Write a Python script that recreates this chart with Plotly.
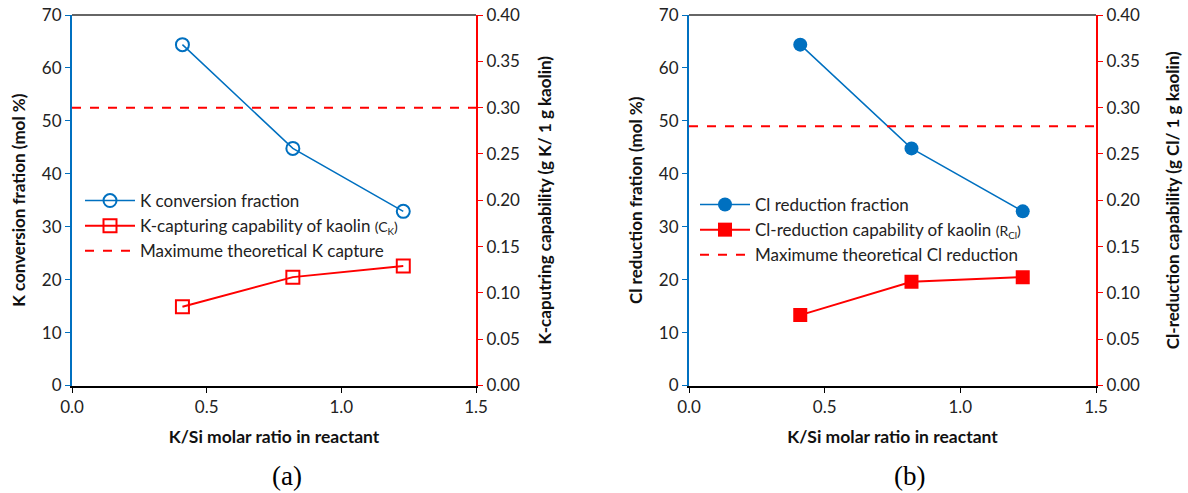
import plotly.graph_objects as go

# ---- data ----
ratio = [0.41, 0.82, 1.23]
k_conversion = [64.4, 44.8, 32.9]          # mol %
k_capability = [0.085, 0.117, 0.129]       # g K / 1 g kaolin
k_max_theoretical = 0.30
cl_reduction = [64.4, 44.8, 32.9]          # mol %
cl_capability = [0.076, 0.112, 0.117]      # g Cl / 1 g kaolin
cl_max_theoretical = 0.28
x_range = [0.0, 1.5]

BLUE = "#0070C0"
RED = "#FF0000"
FONT = "Lato"

W, H = 1188, 493

def px(p):
    return p / W

def py(p):
    return 1 - p / H

fig = go.Figure()

# ---- panel (a) ----
fig.add_trace(go.Scatter(
    x=ratio, y=k_conversion, mode="lines+markers", name="K conversion fraction",
    line=dict(color=BLUE, width=1.5),
    marker=dict(symbol="circle-open", size=13, color=BLUE, line=dict(width=2)),
    xaxis="x", yaxis="y", legend="legend", legendgroup="a1"))
fig.add_trace(go.Scatter(
    x=ratio, y=k_capability, mode="lines+markers",
    name="K-capturing capability of kaolin <span style='font-size:14px'>(C<sub>K</sub>)</span>",
    line=dict(color=RED, width=2),
    marker=dict(symbol="square-open", size=13, color=RED, line=dict(width=2)),
    xaxis="x", yaxis="y2", legend="legend", legendgroup="a2"))
fig.add_trace(go.Scatter(
    x=x_range, y=[k_max_theoretical] * 2, mode="lines",
    name="Maximume theoretical K capture",
    line=dict(color=RED, width=2, dash="dash"),
    xaxis="x", yaxis="y2", legend="legend", legendgroup="a3"))

# ---- panel (b) ----
fig.add_trace(go.Scatter(
    x=ratio, y=cl_reduction, mode="lines+markers", name="Cl reduction fraction",
    line=dict(color=BLUE, width=1.5),
    marker=dict(symbol="circle", size=14, color=BLUE),
    xaxis="x2", yaxis="y3", legend="legend2", legendgroup="b1"))
fig.add_trace(go.Scatter(
    x=ratio, y=cl_capability, mode="lines+markers",
    name="Cl-reduction capability of kaolin <span style='font-size:14px'>(R<sub>Cl</sub>)</span>",
    line=dict(color=RED, width=2),
    marker=dict(symbol="square", size=14, color=RED),
    xaxis="x2", yaxis="y4", legend="legend2", legendgroup="b2"))
fig.add_trace(go.Scatter(
    x=x_range, y=[cl_max_theoretical] * 2, mode="lines",
    name="Maximume theoretical Cl reduction",
    line=dict(color=RED, width=2, dash="dash"),
    xaxis="x2", yaxis="y4", legend="legend2", legendgroup="b3"))

ydom = [py(385.5), py(15)]
xdom_a = [px(72), px(476)]
xdom_b = [px(689), px(1096)]

tickfont = dict(family=FONT, size=17, color="#222")
titlefont = dict(family=FONT, size=17, color="#111", weight="bold")

def xaxis(domain, anchor):
    return dict(domain=domain, anchor=anchor, range=x_range, dtick=0.5, tickformat=".1f",
                showline=True, linecolor="black", linewidth=2, ticks="outside",
                ticklen=5, tickcolor="black", showgrid=False, zeroline=False,
                tickfont=tickfont, automargin=False, ticklabeloverflow="allow",
                title=dict(text="K/Si molar ratio in reactant",
                           font=dict(titlefont, size=17.5), standoff=15))

def yleft(anchor, title):
    return dict(domain=ydom, anchor=anchor, range=[0, 70], dtick=10,
                showline=True, linecolor=BLUE, linewidth=2, ticks="outside",
                ticklen=5, tickcolor=BLUE, showgrid=False, zeroline=False,
                tickfont=tickfont, automargin=False, ticklabeloverflow="allow",
                title=dict(text=title, font=titlefont, standoff=12))

def yright(anchor, overlay, title, standoff):
    return dict(anchor=anchor, overlaying=overlay, side="right", range=[0, 0.4], dtick=0.05,
                tickformat=".2f", showline=True, linecolor=RED, linewidth=2,
                ticks="outside", ticklen=5, tickcolor=RED, showgrid=False,
                zeroline=False, tickfont=tickfont, automargin=False,
                ticklabeloverflow="allow",
                title=dict(text=title, font=titlefont, standoff=standoff))

legend_common = dict(font=dict(family=FONT, size=17, color="#222"), bgcolor="rgba(0,0,0,0)",
                     itemwidth=50, xanchor="left", yanchor="top", traceorder="normal")

fig.update_layout(
    width=W, height=H, template="none",
    paper_bgcolor="white", plot_bgcolor="white",
    margin=dict(l=0, r=0, t=0, b=0),
    xaxis=xaxis(xdom_a, "y"),
    yaxis=yleft("x", "K conversion fration (mol %)"),
    yaxis2=yright("x", "y", "K-caputring capability (g K/ 1 g kaolin)", 20),
    xaxis2=xaxis(xdom_b, "y3"),
    yaxis3=yleft("x2", "Cl reduction fration (mol %)"),
    yaxis4=yright("x2", "y3", "Cl-reduction capability (g Cl/ 1 g kaolin)", 28),
    legend=dict(x=px(80), y=py(183), tracegroupgap=10, **legend_common),
    legend2=dict(x=px(695), y=py(187), tracegroupgap=4, **legend_common),
    showlegend=True,
)

# top border lines
for xr, yr in (("x domain", "y domain"), ("x2 domain", "y3 domain")):
    fig.add_shape(type="line", xref=xr, yref=yr, x0=0, x1=1, y0=1, y1=1,
                  line=dict(color="#333", width=1.5))

# panel labels
for label, xp in (("(a)", 287), ("(b)", 909)):
    fig.add_annotation(text=label, xref="paper", yref="paper", x=px(xp), y=py(476),
                       showarrow=False, xanchor="center", yanchor="middle",
                       font=dict(family="Liberation Serif", size=27, color="black"))

fig.write_html("out.html", config={"displayModeBar": False},
               post_script="document.body.style.margin='0';document.body.style.overflow='hidden';")
